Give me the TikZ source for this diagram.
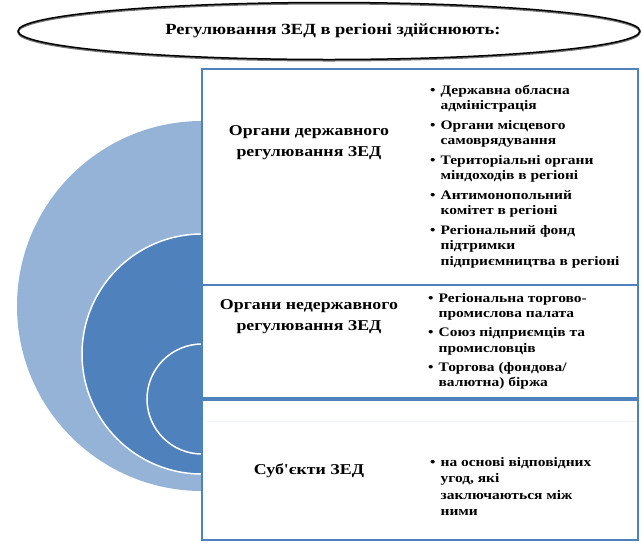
\documentclass[tikz,border=0pt]{standalone}
\usepackage{fontspec}
\setmainfont{Liberation Serif}[Ligatures=TeXOff, FakeStretch=1.19]
\usetikzlibrary{shapes.geometric}

\definecolor{panelblue}{HTML}{4F81BD}
\definecolor{ringlight}{HTML}{95B3D7}

\tikzset{
  panel/.style={draw=panelblue, line width=1.6pt, fill=white},
  ring/.style={draw=white, line width=1.5pt, fill=panelblue},
  heading/.style={font=\bfseries\fontsize{15}{21}\selectfont, align=center},
  itemlist/.style={font=\bfseries\fontsize{13}{15.5}\selectfont, anchor=base west, inner sep=0pt}
}
\newcommand{\bl}{\textbullet}

\begin{document}
\begin{tikzpicture}[x=1pt,y=-1pt]
\useasboundingbox (0,0) rectangle (642,542);

% title oval
\node[draw=black!55, ellipse, line width=1.6pt, minimum width=622, minimum height=57, inner sep=0pt] (ovalshadow) at (329,32.2) {};
\node[draw, ellipse, line width=1.5pt, minimum width=622, minimum height=57, inner sep=0pt] (oval) at (329,31) {};
\node[font=\bfseries\fontsize{15.5}{18}\selectfont] (title) at (333,31) {Регулювання ЗЕД в регіоні здійснюють:};

% nested rings
\fill[ringlight] (202,306) circle (185);
\draw[ring] (202,354) circle (120);
\draw[ring] (202,399) circle (55);

% three panels
\draw[panel] (202,69) rectangle (638,285);
\draw[panel] (202,285) rectangle (638,398);
\draw[panel] (202,400) rectangle (638,540);
\draw[panelblue!10, line width=1pt] (206,421) -- (636,421);

% headings
\node[heading] (gov) at (309,143) {Органи державного\\регулювання ЗЕД};
\node[heading] (nongov) at (309,317) {Органи недержавного\\регулювання ЗЕД};
\node[heading] (subj) at (309,471) {Суб'єкти ЗЕД};

% bullet lists
\node[itemlist] (govlist) at (430,94) {\begin{tabular}[t]{@{}c@{\hspace{5pt}}l@{}}
\bl & Державна обласна\\
    & адміністрація\\[4pt]
\bl & Органи місцевого\\
    & самоврядування\\[4pt]
\bl & Територіальні органи\\
    & міндоходів в регіоні\\[4pt]
\bl & Антимонопольний\\
    & комітет в регіоні\\[4pt]
\bl & Регіональний фонд\\
    & підтримки\\
    & підприємництва в регіоні
\end{tabular}};
\node[itemlist] (nongovlist) at (428,302) {\begin{tabular}[t]{@{}c@{\hspace{5pt}}l@{}}
\bl & Регіональна торгово-\\
    & промислова палата\\[3.5pt]
\bl & Союз підприємців та\\
    & промисловців\\[3.5pt]
\bl & Торгова (фондова/\\
    & валютна) біржа
\end{tabular}};
\node[itemlist, font=\bfseries\fontsize{13}{16.5}\selectfont] (subjlist) at (430,466) {\begin{tabular}[t]{@{}c@{\hspace{5pt}}l@{}}
\bl & на основі відповідних\\
    & угод, які\\
    & заключаються між\\
    & ними
\end{tabular}};
\end{tikzpicture}
\end{document}
